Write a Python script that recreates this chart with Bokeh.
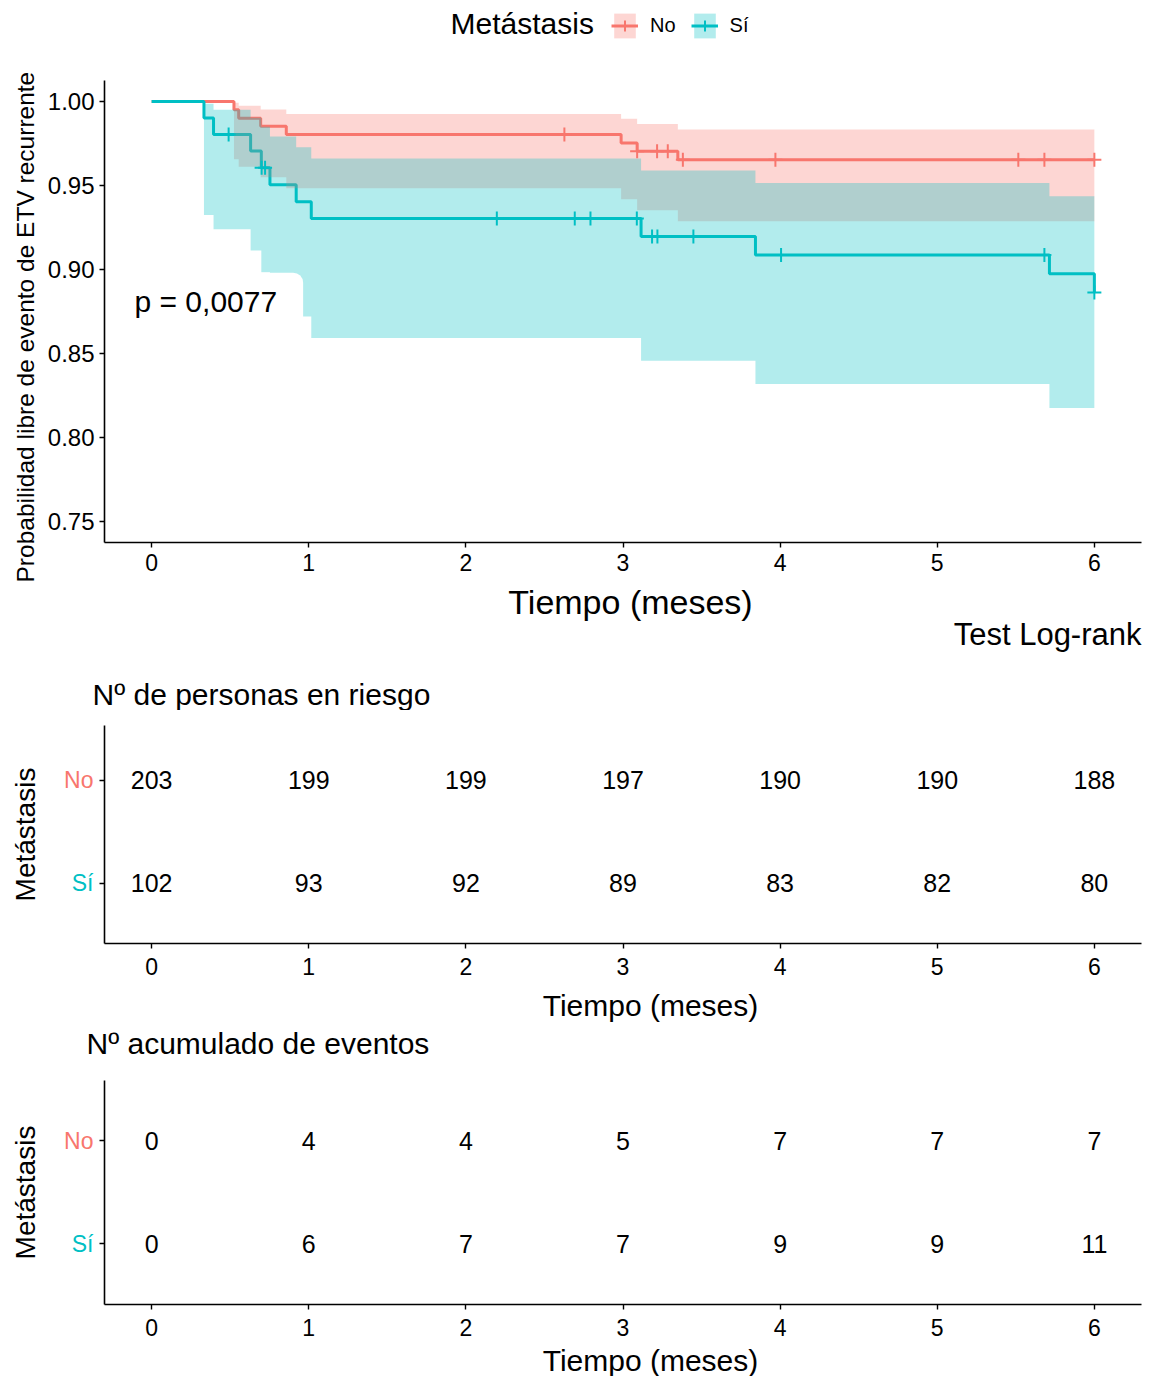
import math
from bokeh.plotting import figure
from bokeh.models import Range1d, FixedTicker, Label, Legend, LegendItem, PrintfTickFormatter, Title
from bokeh.layouts import column, row
from bokeh.embed import file_html
from bokeh.resources import INLINE
from bokeh.core.properties import value

RED = "#F8766D"
CYAN = "#00BFC4"
FONT = "Liberation Sans"

# ---------------- data ----------------
# Kaplan-Meier steps, group "No"
no_t = [0, 0.524, 0.554, 0.694, 0.857, 2.988, 3.090, 3.349, 6.0]
no_s = [1.0, 0.9951, 0.9901, 0.9852, 0.9803, 0.9753, 0.9704, 0.9654, 0.9654]
no_lower = [1.0, 0.9656, 0.9612, 0.9549, 0.9484, 0.9418, 0.9353, 0.9287, 0.9287]
no_upper = [1.0, 0.9993, 0.9975, 0.9952, 0.9926, 0.9897, 0.9866, 0.9833, 0.9833]
no_cens_t = [2.627, 3.090, 3.217, 3.285, 3.381, 3.970, 5.516, 5.682, 6.0]
no_cens_s = [0.9803, 0.9704, 0.9704, 0.9704, 0.9654, 0.9654, 0.9654, 0.9654, 0.9654]

# Kaplan-Meier steps, group "Sí"
si_t = [0, 0.333, 0.394, 0.630, 0.698, 0.753, 0.920, 1.016, 3.115, 3.843, 5.714, 6.0]
si_s = [1.0, 0.9902, 0.9804, 0.9705, 0.9606, 0.9505, 0.9404, 0.9303, 0.9197, 0.9087, 0.8975, 0.8863]
si_lower = [1.0, 0.9324, 0.9239, 0.9113, 0.8984, 0.8851, 0.8720, 0.8592, 0.8457, 0.8318, 0.8176, 0.8176]
si_upper = [1.0, 0.9986, 0.9951, 0.9904, 0.9850, 0.9791, 0.9728, 0.9661, 0.9590, 0.9515, 0.9436, 0.9436]
si_cens_t = [0.490, 0.700, 0.722, 2.197, 2.693, 2.793, 3.088, 3.185, 3.219, 3.448, 4.006, 5.682, 6.0]
si_cens_s = [0.9804, 0.9606, 0.9606, 0.9303, 0.9303, 0.9303, 0.9303, 0.9197, 0.9197, 0.9197, 0.9087, 0.9087, 0.8863]

# risk tables
table_times = [0, 1, 2, 3, 4, 5, 6]
at_risk_no = [203, 199, 199, 197, 190, 190, 188]
at_risk_si = [102, 93, 92, 89, 83, 82, 80]
cum_events_no = [0, 4, 4, 5, 7, 7, 7]
cum_events_si = [0, 6, 7, 7, 9, 9, 11]

groups = ["No", "Sí"]
y_ticks = [0.75, 0.80, 0.85, 0.90, 0.95, 1.00]
x_ticks = [0, 1, 2, 3, 4, 5, 6]
pval_text = "p = 0,0077"
x_title = "Tiempo (meses)"
y_title = "Probabilidad libre de evento de ETV recurrente"
legend_title = "Metástasis"
table_titles = ["Nº de personas en riesgo", "Nº acumulado de eventos"]
caption = "Test Log-rank"

FRAME_W = 1037
LEFT = 104
RIGHT = 10
TOTAL_W = LEFT + FRAME_W + RIGHT


def bare(height):
    """Full-width strip whose data units are page pixels (y measured from its bottom)."""
    p = figure(width=TOTAL_W, height=height, x_range=Range1d(0, TOTAL_W), y_range=Range1d(0, height),
               min_border=0, x_axis_location=None, y_axis_location=None,
               title_location=None, output_backend="svg", toolbar_location=None)
    p.grid.visible = False
    p.outline_line_color = None
    return p


def put_text(p, x, y, txt, size, align="left", color="black", angle=0.0):
    p.text(x=[x], y=[y], text=[txt], angle=angle, text_font=value(FONT), text_font_size=size,
           text_color=color, text_align=align, text_baseline="middle")


def style_axes(p, tick_size):
    for ax in (p.xaxis[0], p.yaxis[0]):
        ax.axis_line_color = "black"
        ax.axis_line_width = 1.6
        ax.major_tick_line_color = "black"
        ax.major_tick_line_width = 1.4
        ax.major_tick_out = 5
        ax.major_tick_in = 0
        ax.minor_tick_line_color = None
        ax.major_label_text_font = FONT
        ax.major_label_text_font_size = tick_size
        ax.major_label_text_color = "black"
    p.xaxis[0].ticker = FixedTicker(ticks=x_ticks)
    p.grid.visible = False
    p.outline_line_color = None


# ---------------- header (page y 0..44) with legend ----------------
HDR_H = 44
hdr = bare(HDR_H)
OFF = [-50, -40]  # legend-key renderers kept outside the visible range
d_b_no = hdr.varea(x=OFF, y1=OFF, y2=OFF, fill_color=RED, fill_alpha=0.3)
d_l_no = hdr.line(x=OFF, y=OFF, line_color=RED, line_width=3)
d_c_no = hdr.scatter(x=OFF, y=OFF, marker="cross", size=14, line_color=RED, line_width=2)
d_b_si = hdr.varea(x=OFF, y1=OFF, y2=OFF, fill_color=CYAN, fill_alpha=0.3)
d_l_si = hdr.line(x=OFF, y=OFF, line_color=CYAN, line_width=3)
d_c_si = hdr.scatter(x=OFF, y=OFF, marker="cross", size=14, line_color=CYAN, line_width=2)
legend = Legend(items=[LegendItem(label=groups[0], renderers=[d_b_no, d_l_no, d_c_no]),
                       LegendItem(label=groups[1], renderers=[d_b_si, d_l_si, d_c_si])],
                orientation="horizontal", location=(611, 3),
                padding=0, margin=0, border_line_color=None, background_fill_alpha=0,
                glyph_width=27, glyph_height=31, label_standoff=12, spacing=15,
                label_text_font=FONT, label_text_font_size="20px", label_text_color="black")
hdr.add_layout(legend)
put_text(hdr, 450, HDR_H - 23, legend_title, "30px")

# ---------------- survival plot (page y 44..584) ----------------
P1_TOP, P1_FH, P1_BOT = 80 - HDR_H, 462, 42
p1 = figure(frame_width=FRAME_W, frame_height=P1_FH,
            x_range=Range1d(-0.3, 6.3), y_range=Range1d(0.7375, 1.0125),
            min_border_left=LEFT, min_border_right=RIGHT, min_border_top=P1_TOP,
            min_border_bottom=P1_BOT, title_location=None,
            output_backend="svg", toolbar_location=None)
style_axes(p1, tick_size="23px")
p1.xaxis[0].major_label_standoff = 6
p1.yaxis[0].ticker = FixedTicker(ticks=y_ticks)
p1.yaxis[0].formatter = PrintfTickFormatter(format="%.2f")
p1.yaxis[0].major_label_text_font_size = "24px"
p1.yaxis[0].major_label_standoff = 5

p1.step(no_t, no_s, mode="after", line_color=RED, line_width=3)
p1.step(si_t, si_s, mode="after", line_color=CYAN, line_width=3)
p1.varea_step(x=no_t, y1=no_lower, y2=no_upper, step_mode="after", fill_color=RED, fill_alpha=0.3)
p1.varea_step(x=si_t, y1=si_lower, y2=si_upper, step_mode="after", fill_color=CYAN, fill_alpha=0.3)
p1.scatter(no_cens_t, no_cens_s, marker="cross", size=14, line_color=RED, line_width=2)
p1.scatter(si_cens_t, si_cens_s, marker="cross", size=14, line_color=CYAN, line_width=2)

p1.add_layout(Label(x=-0.3, y=0.877, x_offset=18, text=pval_text,
                    text_font=FONT, text_font_size="30px", text_color="black",
                    text_baseline="middle", text_align="left",
                    background_fill_color="white", background_fill_alpha=1.0,
                    padding=(12, 26, 12, 26), border_radius=10))
p1.add_layout(Title(text=y_title, align="left", offset=-40, standoff=12, text_font=FONT,
                    text_font_size="24.5px", text_font_style="normal", text_color="black"), "left")

# ---------------- strip (page y 584..710): x title, caption, table-1 title ----------------
MID_H = 126
mid = bare(MID_H)
put_text(mid, 630, MID_H - (601 - 584), x_title, "34px", align="center")
put_text(mid, 1141, MID_H - (634 - 584), caption, "31px", align="right")
put_text(mid, 92, MID_H - (694 - 584), table_titles[0], "30px")


# ---------------- tables ----------------
TAB_LB = 8
LAB_W = LEFT - TAB_LB


def table_row(vals_no, vals_si, top, frame_h, bottom, yr):
    p = figure(frame_width=FRAME_W, frame_height=frame_h,
               x_range=Range1d(-0.3, 6.3), y_range=Range1d(*yr), title_location=None,
               min_border_left=TAB_LB, min_border_right=RIGHT, min_border_top=top,
               min_border_bottom=bottom, output_backend="svg", toolbar_location=None)
    style_axes(p, tick_size="23px")
    p.xaxis[0].major_label_standoff = 9
    p.yaxis[0].ticker = FixedTicker(ticks=[1, 2])
    p.yaxis[0].major_label_overrides = {1: " ", 2: " "}
    p.yaxis[0].major_label_text_font_size = "1px"
    p.yaxis[0].major_label_standoff = 0
    p.text(x=table_times, y=[2] * len(table_times), text=[str(v) for v in vals_no],
           text_font=value(FONT), text_font_size="25px", text_color="black",
           text_align="center", text_baseline="middle")
    p.text(x=table_times, y=[1] * len(table_times), text=[str(v) for v in vals_si],
           text_font=value(FONT), text_font_size="25px", text_color="black",
           text_align="center", text_baseline="middle")

    lab = figure(frame_width=LAB_W, frame_height=frame_h,
                 x_range=Range1d(0, LAB_W), y_range=Range1d(*yr),
                 min_border_left=0, min_border_right=0, min_border_top=top, min_border_bottom=bottom,
                 x_axis_location=None, y_axis_location=None, title_location=None,
                 output_backend="svg", toolbar_location=None)
    lab.grid.visible = False
    lab.outline_line_color = None
    lab.text(x=[93, 93], y=[2, 1], text=groups, text_color=[RED, CYAN],
             text_font=value(FONT), text_font_size="23px",
             text_align="right", text_baseline="middle")
    put_text(lab, 25, (yr[0] + yr[1]) / 2, legend_title, "28px", align="center", angle=math.pi / 2)
    return row(lab, p)


# table 1: page 710..983, frame 725..943
row2 = table_row(at_risk_no, at_risk_si, top=15, frame_h=218, bottom=40, yr=(0.417, 2.534))

# strip page 983..1066: x title of table 1, title of table 2
MID2_H = 83
mid2 = bare(MID2_H)
put_text(mid2, 650, MID2_H - (1005 - 983), x_title, "30px", align="center")
put_text(mid2, 86, MID2_H - (1043 - 983), table_titles[1], "30px")

# table 2: page 1066..1344, frame 1080..1304
row3 = table_row(cum_events_no, cum_events_si, top=14, frame_h=224, bottom=40, yr=(0.408, 2.583))

# footer page 1344..1376
FOOT_H = 32
foot = bare(FOOT_H)
put_text(foot, 650, FOOT_H - (1360 - 1344), x_title, "30px", align="center")

layout = column(hdr, row(p1), mid, row2, mid2, row3, foot)
open("out.html", "w").write(file_html(layout, INLINE))
